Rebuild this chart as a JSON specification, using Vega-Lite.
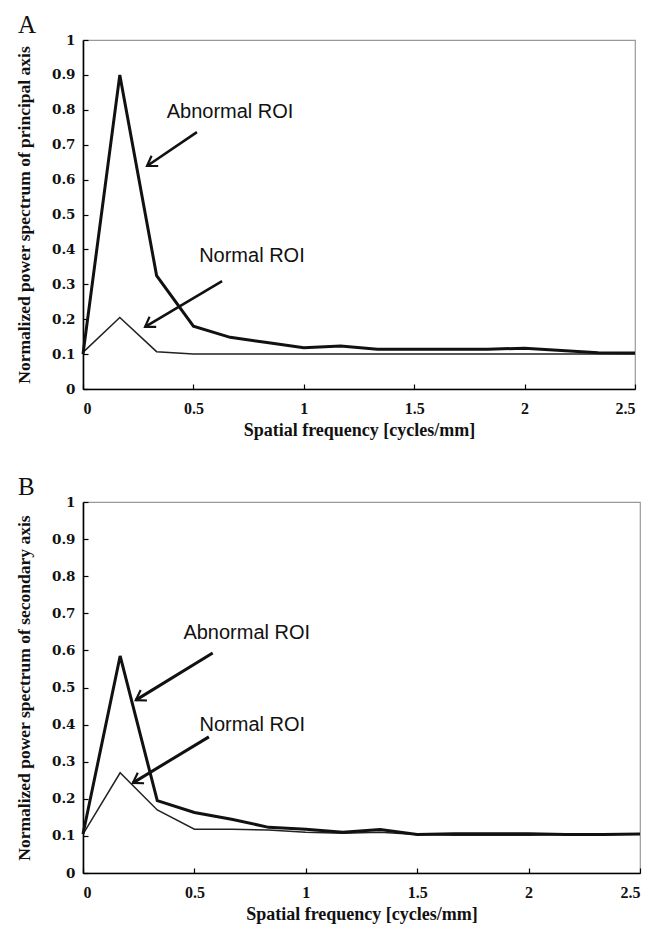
{
  "$schema": "https://vega.github.io/schema/vega-lite/v6.json",
  "background": "white",
  "padding": {"left": 14, "top": 12, "right": 0, "bottom": 0},
  "config": {
    "view": {"stroke": "#999999", "strokeWidth": 1.2},
    "axis": {
      "grid": false,
      "domainColor": "#000000",
      "domainWidth": 1.6,
      "tickColor": "#000000",
      "tickWidth": 1.2,
      "tickSize": -5,
      "labelFont": "Liberation Serif",
      "labelFontSize": 16,
      "labelFontWeight": "bold",
      "labelColor": "#111111",
      "titleFont": "Liberation Serif",
      "titleFontSize": 18,
      "titleFontWeight": "bold",
      "titleColor": "#111111"
    },
    "axisY": {"labelFont": "DejaVu Serif", "labelFontSize": 13.5, "titleFontSize": 17.5},
    "title": {"font": "Liberation Serif", "fontSize": 25, "fontWeight": "normal", "color": "#111111", "anchor": "start", "frame": "group", "dx": -65, "offset": -5}
  },
  "datasets": {
    "specA": [
      {"f": 0.0, "p": 0.100, "roi": "Abnormal"},
      {"f": 0.1667, "p": 0.900, "roi": "Abnormal"},
      {"f": 0.3333, "p": 0.325, "roi": "Abnormal"},
      {"f": 0.5, "p": 0.180, "roi": "Abnormal"},
      {"f": 0.6667, "p": 0.148, "roi": "Abnormal"},
      {"f": 0.8333, "p": 0.133, "roi": "Abnormal"},
      {"f": 1.0, "p": 0.118, "roi": "Abnormal"},
      {"f": 1.1667, "p": 0.123, "roi": "Abnormal"},
      {"f": 1.3333, "p": 0.114, "roi": "Abnormal"},
      {"f": 1.5, "p": 0.114, "roi": "Abnormal"},
      {"f": 1.6667, "p": 0.114, "roi": "Abnormal"},
      {"f": 1.8333, "p": 0.114, "roi": "Abnormal"},
      {"f": 2.0, "p": 0.117, "roi": "Abnormal"},
      {"f": 2.1667, "p": 0.110, "roi": "Abnormal"},
      {"f": 2.3333, "p": 0.104, "roi": "Abnormal"},
      {"f": 2.5, "p": 0.103, "roi": "Abnormal"},
      {"f": 0.0, "p": 0.105, "roi": "Normal"},
      {"f": 0.1667, "p": 0.205, "roi": "Normal"},
      {"f": 0.3333, "p": 0.107, "roi": "Normal"},
      {"f": 0.5, "p": 0.100, "roi": "Normal"},
      {"f": 0.6667, "p": 0.100, "roi": "Normal"},
      {"f": 0.8333, "p": 0.100, "roi": "Normal"},
      {"f": 1.0, "p": 0.100, "roi": "Normal"},
      {"f": 1.1667, "p": 0.100, "roi": "Normal"},
      {"f": 1.3333, "p": 0.100, "roi": "Normal"},
      {"f": 1.5, "p": 0.100, "roi": "Normal"},
      {"f": 1.6667, "p": 0.100, "roi": "Normal"},
      {"f": 1.8333, "p": 0.100, "roi": "Normal"},
      {"f": 2.0, "p": 0.100, "roi": "Normal"},
      {"f": 2.1667, "p": 0.100, "roi": "Normal"},
      {"f": 2.3333, "p": 0.100, "roi": "Normal"},
      {"f": 2.5, "p": 0.100, "roi": "Normal"}
    ],
    "specB": [
      {"f": 0.0, "p": 0.105, "roi": "Abnormal"},
      {"f": 0.1667, "p": 0.585, "roi": "Abnormal"},
      {"f": 0.3333, "p": 0.195, "roi": "Abnormal"},
      {"f": 0.5, "p": 0.163, "roi": "Abnormal"},
      {"f": 0.6667, "p": 0.145, "roi": "Abnormal"},
      {"f": 0.8333, "p": 0.123, "roi": "Abnormal"},
      {"f": 1.0, "p": 0.118, "roi": "Abnormal"},
      {"f": 1.1667, "p": 0.110, "roi": "Abnormal"},
      {"f": 1.3333, "p": 0.117, "roi": "Abnormal"},
      {"f": 1.5, "p": 0.104, "roi": "Abnormal"},
      {"f": 1.6667, "p": 0.106, "roi": "Abnormal"},
      {"f": 1.8333, "p": 0.106, "roi": "Abnormal"},
      {"f": 2.0, "p": 0.106, "roi": "Abnormal"},
      {"f": 2.1667, "p": 0.104, "roi": "Abnormal"},
      {"f": 2.3333, "p": 0.104, "roi": "Abnormal"},
      {"f": 2.5, "p": 0.105, "roi": "Abnormal"},
      {"f": 0.0, "p": 0.105, "roi": "Normal"},
      {"f": 0.1667, "p": 0.270, "roi": "Normal"},
      {"f": 0.3333, "p": 0.170, "roi": "Normal"},
      {"f": 0.5, "p": 0.118, "roi": "Normal"},
      {"f": 0.6667, "p": 0.118, "roi": "Normal"},
      {"f": 0.8333, "p": 0.116, "roi": "Normal"},
      {"f": 1.0, "p": 0.110, "roi": "Normal"},
      {"f": 1.1667, "p": 0.107, "roi": "Normal"},
      {"f": 1.3333, "p": 0.110, "roi": "Normal"},
      {"f": 1.5, "p": 0.104, "roi": "Normal"},
      {"f": 1.6667, "p": 0.102, "roi": "Normal"},
      {"f": 1.8333, "p": 0.102, "roi": "Normal"},
      {"f": 2.0, "p": 0.102, "roi": "Normal"},
      {"f": 2.1667, "p": 0.104, "roi": "Normal"},
      {"f": 2.3333, "p": 0.104, "roi": "Normal"},
      {"f": 2.5, "p": 0.105, "roi": "Normal"}
    ],
    "notesA": [
      {"label": "Abnormal ROI", "f": 0.666, "p": 0.794, "f0": 0.516, "p0": 0.736, "f1": 0.29, "p1": 0.639},
      {"label": "Normal ROI", "f": 0.765, "p": 0.381, "f0": 0.63, "p0": 0.309, "f1": 0.281, "p1": 0.178}
    ],
    "notesB": [
      {"label": "Abnormal ROI", "f": 0.735, "p": 0.647, "f0": 0.582, "p0": 0.593, "f1": 0.237, "p1": 0.466},
      {"label": "Normal ROI", "f": 0.76, "p": 0.399, "f0": 0.565, "p0": 0.367, "f1": 0.224, "p1": 0.243}
    ]
  },
  "vconcat": [
    {
      "title": {"text": "A"},
      "width": 552,
      "height": 349,
      "encoding": {
        "x": {"field": "f", "type": "quantitative", "scale": {"domain": [0, 2.5], "nice": false},
          "axis": {"values": [0, 0.5, 1, 1.5, 2, 2.5], "format": "~g", "title": "Spatial frequency [cycles/mm]", "labelPadding": 16, "titlePadding": 5}},
        "y": {"field": "p", "type": "quantitative", "scale": {"domain": [0, 1], "nice": false},
          "axis": {"values": [0, 0.1, 0.2, 0.3, 0.4, 0.5, 0.6, 0.7, 0.8, 0.9, 1], "format": "~g", "title": "Normalized power spectrum of principal axis", "labelPadding": 13, "titlePadding": 18}}
      },
      "layer": [
        {"data": {"name": "specA"}, "transform": [{"filter": "datum.roi === 'Normal'"}],
          "mark": {"type": "line", "color": "#222222", "strokeWidth": 1.5}},
        {"data": {"name": "specA"}, "transform": [{"filter": "datum.roi === 'Abnormal'"}],
          "mark": {"type": "line", "color": "#111111", "strokeWidth": 3}},
        {"data": {"name": "notesA"},
          "mark": {"type": "text", "font": "Liberation Sans", "fontSize": 20, "color": "#111111", "baseline": "middle", "align": "center"},
          "encoding": {"text": {"field": "label"}}},
        {"data": {"name": "notesA"},
          "mark": {"type": "rule", "color": "#111111", "strokeWidth": 2.6},
          "encoding": {"x": {"field": "f0", "type": "quantitative"}, "y": {"field": "p0", "type": "quantitative"}, "x2": {"field": "f1"}, "y2": {"field": "p1"}}},
        {"data": {"name": "notesA"},
          "mark": {"type": "point", "shape": "M -1 -0.65 L 0 0 L -1 0.65", "filled": false, "color": "#111111", "strokeWidth": 2.2, "size": 350, "angle": 147, "opacity": 1},
          "encoding": {"x": {"field": "f1", "type": "quantitative"}, "y": {"field": "p1", "type": "quantitative"}}}
      ]
    },
    {
      "title": {"text": "B"},
      "width": 557,
      "height": 371,
      "encoding": {
        "x": {"field": "f", "type": "quantitative", "scale": {"domain": [0, 2.5], "nice": false},
          "axis": {"values": [0, 0.5, 1, 1.5, 2, 2.5], "format": "~g", "title": "Spatial frequency [cycles/mm]", "labelPadding": 16, "titlePadding": 5}},
        "y": {"field": "p", "type": "quantitative", "scale": {"domain": [0, 1], "nice": false},
          "axis": {"values": [0, 0.1, 0.2, 0.3, 0.4, 0.5, 0.6, 0.7, 0.8, 0.9, 1], "format": "~g", "title": "Normalized power spectrum of secondary axis", "labelPadding": 13, "titlePadding": 18}}
      },
      "layer": [
        {"data": {"name": "specB"}, "transform": [{"filter": "datum.roi === 'Normal'"}],
          "mark": {"type": "line", "color": "#222222", "strokeWidth": 1.5}},
        {"data": {"name": "specB"}, "transform": [{"filter": "datum.roi === 'Abnormal'"}],
          "mark": {"type": "line", "color": "#111111", "strokeWidth": 3}},
        {"data": {"name": "notesB"},
          "mark": {"type": "text", "font": "Liberation Sans", "fontSize": 20, "color": "#111111", "baseline": "middle", "align": "center"},
          "encoding": {"text": {"field": "label"}}},
        {"data": {"name": "notesB"},
          "mark": {"type": "rule", "color": "#111111", "strokeWidth": 3},
          "encoding": {"x": {"field": "f0", "type": "quantitative"}, "y": {"field": "p0", "type": "quantitative"}, "x2": {"field": "f1"}, "y2": {"field": "p1"}}},
        {"data": {"name": "notesB"},
          "mark": {"type": "point", "shape": "M -1 -0.65 L 0 0 L -1 0.65", "filled": false, "color": "#111111", "strokeWidth": 2.2, "size": 350, "angle": 149, "opacity": 1},
          "encoding": {"x": {"field": "f1", "type": "quantitative"}, "y": {"field": "p1", "type": "quantitative"}}}
      ]
    }
  ],
  "spacing": 34
}
